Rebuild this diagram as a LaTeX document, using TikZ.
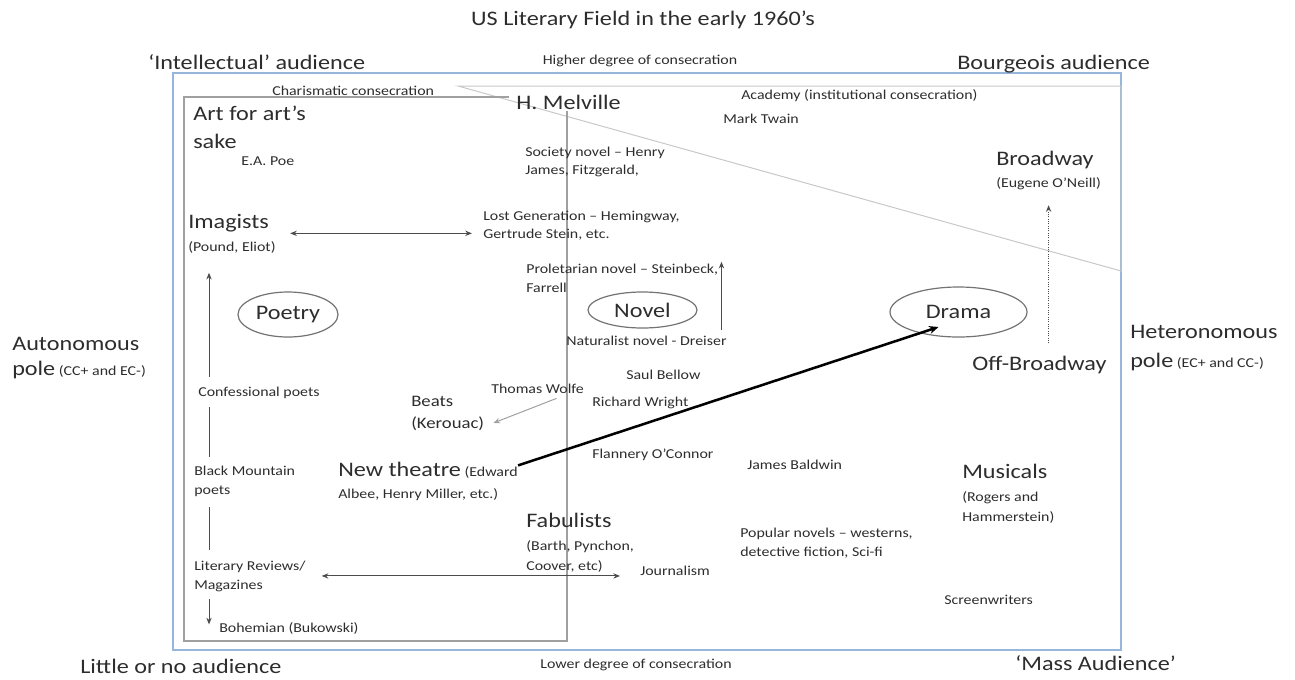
\documentclass[tikz,border=0pt]{standalone}
\usepackage{fontspec}
\setmainfont{Carlito}[FakeStretch=1.17]
\usetikzlibrary{arrows.meta,positioning,calc,shapes.geometric}
\definecolor{ink}{RGB}{45,45,45}
\definecolor{frameblue}{RGB}{150,182,218}
\definecolor{gris}{RGB}{160,160,160}
\definecolor{grisclaro}{RGB}{200,200,200}
\newcommand\bigfont{\fontsize{15.5}{21}\selectfont}
\newcommand\smallfont{\fontsize{10.2}{14.25}\selectfont}

\begin{document}
\begin{tikzpicture}[x=0.75pt,y=-0.75pt,>={Stealth[length=5pt,width=4pt]},
  lbl/.style={anchor=base west,inner sep=0pt,align=left,text=ink},
  big/.style={lbl,font=\bigfont},
  small/.style={lbl,font=\smallfont},
  genre/.style={draw=black!55,ellipse,inner sep=0pt,text=ink,font=\bigfont,line width=0.9pt},
  link/.style={draw=black!70,line width=0.75pt}]
        \useasboundingbox (0,0) rectangle (1295,679);
        % frames
        \draw[frameblue,line width=1.1pt] (173,73) rectangle (1121,650);
        \draw[grisclaro,line width=0.75pt] (1121,271) -- (458,86) -- (1121,86) -- cycle;
        \draw[gris,line width=0.8pt] (509,97) -- (184,97) -- (184,641) -- (567,641) -- (567,111);
        % outer labels (multi-line nodes sit on their last line)
        \node[big,anchor=base] (title) at (643,25) {US Literary Field in the early 1960’s};
        \node[big] (intel) at (148,69) {‘Intellectual’ audience};
        \node[small,anchor=base] (higher) at (640,64) {Higher degree of consecration};
        \node[big] (bourg) at (957,69) {Bourgeois audience};
        \node[lbl,font=\fontsize{10.2}{18.75}\selectfont] (autonom) at (12,375) {{\bigfont Autonomous}\\{\bigfont pole} (CC+ and EC-)};
        \node[lbl,font=\fontsize{10.2}{21.75}\selectfont] (heteron) at (1130,367) {{\bigfont Heteronomous}\\{\bigfont pole} (EC+ and CC-)};
        \node[big] (little) at (80,673) {Little or no audience};
        \node[small,anchor=base] (lower) at (636,668) {Lower degree of consecration};
        \node[big] (mass) at (1015,670) {‘Mass Audience’};
        % inside the field
        \node[small] (charis) at (272,95) {Charismatic consecration};
        \node[small] (academy) at (741,99) {Academy (institutional consecration)};
        \node[big] (artsake) at (193,148) {Art for art’s\\sake};
        \node[big] (melville) at (516,109) {H. Melville};
        \node[small] (twain) at (723,123) {Mark Twain};
        \node[small] (poe) at (241,165) {E.A. Poe};
        \node[small,font=\fontsize{10.2}{13.5}\selectfont] (society) at (525,174) {Society novel – Henry\\James, Fitzgerald,};
        \node[lbl,font=\fontsize{10.2}{16.5}\selectfont] (broadway) at (996,187) {{\bigfont Broadway}\\(Eugene O’Neill)};
        \node[lbl,font=\fontsize{10.2}{17.25}\selectfont] (imag) at (188,251) {{\bigfont Imagists}\\(Pound, Eliot)};
        \node[small,font=\fontsize{10.2}{13.5}\selectfont] (lostgen) at (483,238) {Lost Generation – Hemingway,\\Gertrude  Stein, etc.};
        \node[small] (prolet) at (526,292) {Proletarian novel – Steinbeck,\\Farrell};
        \node[small] (natur) at (566,345) {Naturalist novel - Dreiser};
        \node[big] (offb) at (972,370) {Off-Broadway};
        \node[small] (bellow) at (626,379) {Saul Bellow};
        \node[small] (confess) at (198,396) {Confessional poets};
        \node[small] (wolfe) at (491,393) {Thomas Wolfe};
        \node[lbl,font=\fontsize{12}{16.5}\selectfont] (beats) at (411,428) {Beats\\(Kerouac)};
        \node[small] (wright) at (592,406) {Richard Wright};
        \node[small] (oconnor) at (592,458) {Flannery O’Connor};
        \node[small] (baldwin) at (747,469) {James Baldwin};
        \node[small] (blackm) at (194,494) {Black Mountain\\poets};
        \node[lbl,font=\fontsize{10.2}{16.5}\selectfont] (newth) at (338,498) {{\bigfont New theatre} (Edward\\Albee, Henry Miller, etc.)};
        \node[lbl,font=\fontsize{10.2}{15}\selectfont] (musicals) at (962,521) {{\bigfont Musicals}\\[2.25pt](Rogers and\\Hammerstein)};
        \node[lbl,font=\fontsize{10.2}{15}\selectfont] (fabul) at (526,570) {{\bigfont Fabulists}\\[2.25pt](Barth, Pynchon,\\Coover, etc)};
        \node[small] (popular) at (740,556) {Popular novels – westerns,\\detective fiction, Sci-fi};
        \node[small] (litrev) at (194,589) {Literary Reviews/\\Magazines};
        \node[small] (journ) at (640,575) {Journalism};
        \node[small] (screen) at (944,604) {Screenwriters};
        \node[small] (bohem) at (219,632) {Bohemian  (Bukowski)};
        % genres
        \node[genre,minimum width=75pt,minimum height=33.75pt] (poetry) at (288,314.5) {Poetry};
        \node[genre,minimum width=81.75pt,minimum height=27pt] (novel) at (642.5,310) {Novel};
        \node[genre,minimum width=102.75pt,minimum height=37.5pt] (drama) at (958.5,312) {Drama};
        % connectors
        \coordinate (spine) at (209,0);
        \draw[->,link,shorten <=7pt,shorten >=14.7pt] (confess.north -| spine) -- (imag.south -| spine);
        \draw[link,shorten <=6.5pt,shorten >=6.4pt] (confess.south -| spine) -- (blackm.north -| spine);
        \draw[link,shorten <=8pt,shorten >=7.9pt] (blackm.south -| spine) -- (litrev.north -| spine);
        \draw[->,link,shorten <=5.7pt,shorten >=2.7pt] (litrev.south -| spine) -- (bohem.west -| spine);
        \draw[<->,link,shorten <=10.7pt,shorten >=8.3pt] (imag.east) -- (imag.east -| lostgen.west);
        \draw[<->,link,shorten <=12pt,shorten >=15pt] (litrev.east) -- (litrev.east -| journ.west);
        \draw[->,link,draw=gris] ($(wolfe.south)+(19,5)$) -- ($(beats.east)+(9,10)$);
        \draw[->,link] ($(natur.north -| prolet.east)+(3,-5.5)$) -- ($(prolet.north east)+(3,-1.5)$);
        \draw[-{Stealth[length=7pt,width=6pt]},line width=1.9pt] ($(newth.north east)+(0,4)$) -- ($(drama.center)+(-20,15)$);
        \draw[->,link,densely dotted,shorten <=9pt,shorten >=11.7pt] (broadway.south |- offb.north) -- (broadway.south);
      \end{tikzpicture}
\end{document}
